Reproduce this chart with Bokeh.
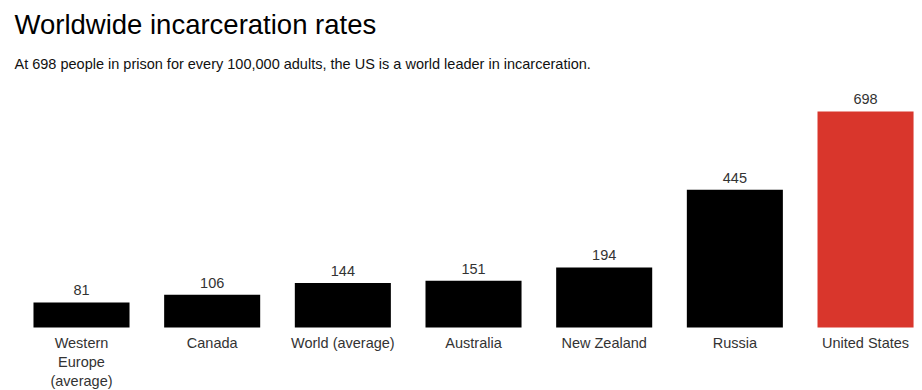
from bokeh.plotting import figure
from bokeh.models import ColumnDataSource, Range1d, Label
from bokeh.core.properties import value
from bokeh.embed import file_html
from bokeh.resources import INLINE

categories = ["Western\nEurope\n(average)", "Canada", "World (average)", "Australia",
              "New Zealand", "Russia", "United States"]
rates = [81, 106, 144, 151, 194, 445, 698]
colors = ["#000000"] * 6 + ["#d9362c"]

idx = list(range(len(categories)))
src = ColumnDataSource(dict(x=idx, top=rates, cat=categories, color=colors,
                            lbl=[str(v) for v in rates], zero=[0] * len(rates)))

W, H = 922, 390
p = figure(width=W, height=H, output_backend="svg", toolbar_location=None,
           x_range=Range1d(-0.6199, 6.436), y_range=Range1d(-203.6, 1056.7),
           min_border=0, outline_line_color=None)
p.xaxis.visible = False
p.yaxis.visible = False
p.grid.visible = False

FONT = value("Liberation Sans")

p.vbar(x="x", top="top", bottom=0, width=0.735, color="color", source=src, line_color=None)

p.text(x="x", y="top", text="lbl", source=src, text_font=FONT, text_font_size="14.5px",
       text_color="#333333", text_align="center", text_baseline="alphabetic", y_offset=-12)

p.text(x="x", y="zero", text="cat", source=src, text_font=FONT, text_font_size="14.5px",
       text_color="#333333", text_align="center", text_baseline="top", y_offset=8,
       text_line_height=1.17)

p.add_layout(Label(x=14, y=366, x_units="screen", y_units="screen",
                   text="Worldwide incarceration rates", text_font="Liberation Sans",
                   text_font_size="27.5px", text_color="#000000", text_baseline="alphabetic"))
p.add_layout(Label(x=14, y=327, x_units="screen", y_units="screen",
                   text="At 698 people in prison for every 100,000 adults, the US is a world leader in incarceration.",
                   text_font="Liberation Sans", text_font_size="14.5px", text_color="#111111",
                   text_baseline="alphabetic"))

open("out.html", "w").write(file_html(p, INLINE))
